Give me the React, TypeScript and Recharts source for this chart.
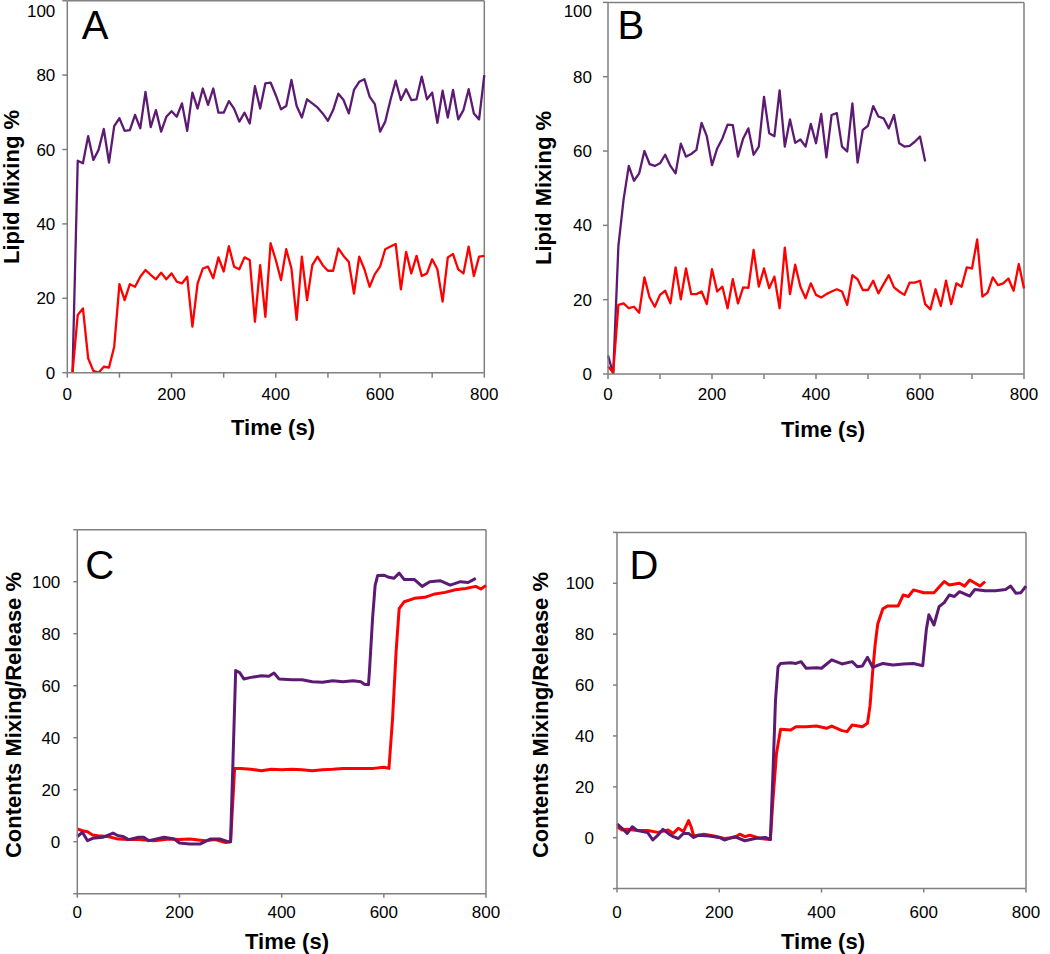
import { LineChart, Line, XAxis, YAxis, ReferenceLine } from "recharts";

const FONT = "'Liberation Sans', Arial, sans-serif";
const PURPLE = "#5d1a73";
const RED = "#ff0000";
const AXIS = "#808080";

// Panel A: lipid mixing, one reading every 10 s
const A_TIME = [
  10, 20, 30, 40, 50, 60, 70, 80, 90, 100, 110, 120, 130, 140, 150, 160, 170, 180, 190, 200,
  210, 220, 230, 240, 250, 260, 270, 280, 290, 300, 310, 320, 330, 340, 350, 360, 370, 380, 390, 400,
  410, 420, 430, 440, 450, 460, 470, 480, 490, 500, 510, 520, 530, 540, 550, 560, 570, 580, 590, 600,
  610, 620, 630, 640, 650, 660, 670, 680, 690, 700, 710, 720, 730, 740, 750, 760, 770, 780, 790, 800,
];
const A_PURPLE = [
  0, 57, 56.3, 63.6, 57.2, 59.9, 65.5, 56.5, 66.3, 68.4,
  65, 65.2, 69.3, 65.7, 75.5, 66, 70.6, 64.8, 68.8, 70.3,
  68.8, 72.4, 65, 75.3, 71, 76.4, 72, 76.4, 69.9, 69.9,
  73, 71, 67.5, 69.9, 67, 77, 71, 77.8, 78, 74.6,
  70.8, 71.7, 78.7, 71.7, 68.6, 73.5, 72.4, 71.3, 69.7, 67.7,
  70.6, 75, 73.3, 69.7, 76, 78.2, 78.9, 74.2, 72.2, 64.8,
  67.5, 73.3, 78.5, 73.3, 76.2, 73.3, 73.5, 79.6, 73.5, 75.3,
  67.2, 75.8, 68.6, 76, 68.1, 70.6, 76.2, 69.7, 68.1, 80,
];
const A_RED = [
  0, 15.5, 17.3, 3.9, 0.5, 0, 1.6, 1.4, 7, 23.8,
  19.5, 23.8, 23.1, 25.8, 27.6, 26.3, 25.1, 26.9, 25.1, 26.7,
  24.5, 24, 25.8, 12.4, 24, 28, 28.5, 25.4, 31, 27.2,
  34, 28.5, 27.8, 31, 30.3, 13.7, 28.9, 15, 34.8, 30.3,
  24.9, 33.2, 28, 14.2, 31.2, 19.5, 28.9, 31.2, 28.9, 27.4,
  27.4, 33.4, 31.4, 29.8, 21.3, 31.2, 27.8, 23.1, 26.5, 28.5,
  33.2, 33.9, 34.6, 22.4, 32.5, 26.7, 31.4, 26, 26.7, 30.5,
  27.8, 19.1, 31, 31.9, 27.8, 26.7, 33.9, 26, 31.2, 31.4,
];

// Panel B: lipid mixing, one reading every 10 s (purple stops at 610 s)
const B_TIME = [
  0, 10, 20, 30, 40, 50, 60, 70, 80, 90, 100, 110, 120, 130, 140, 150, 160, 170, 180, 190,
  200, 210, 220, 230, 240, 250, 260, 270, 280, 290, 300, 310, 320, 330, 340, 350, 360, 370, 380, 390,
  400, 410, 420, 430, 440, 450, 460, 470, 480, 490, 500, 510, 520, 530, 540, 550, 560, 570, 580, 590,
  600, 610, 620, 630, 640, 650, 660, 670, 680, 690, 700, 710, 720, 730, 740, 750, 760, 770, 780, 790,
  800,
];
const B_PURPLE = [
  5, 0, 34.5, 47, 56, 52, 54, 60, 56.5, 56,
  56.7, 59, 56, 54, 62, 58.5, 59.2, 60.3, 67.6, 64,
  56.2, 60.7, 63.4, 67.1, 67, 58.5, 63.4, 66.1, 59, 61.2,
  74.6, 64.8, 64, 76.3, 61.2, 68.5, 62.2, 63.1, 61.2, 67.3,
  62.1, 70, 58.3, 69.7, 70.2, 61.2, 59.9, 72.8, 56.9, 65.7,
  66.8, 72.1, 69.3, 68.8, 66.1, 69.7, 62.1, 61.2, 61.4, 62.5,
  63.9, 57.2,
];
const B_RED = [
  2, 0.4, 18.6, 19, 17.7, 18.1, 16.5, 26, 20.6, 18.1,
  21.3, 22.4, 19, 28.7, 20.1, 28.4, 21.5, 21.5, 22.2, 18.8,
  28.2, 22.2, 23.5, 17.7, 25.5, 19, 23.3, 23.2, 33.4, 23.5,
  28.4, 23.1, 26.2, 17.7, 34, 21.5, 29.4, 23.5, 20.4, 24.4,
  21.3, 20.6, 21.5, 22.2, 22.8, 22.2, 18.6, 26.6, 25.5, 22.6,
  22.6, 25.1, 21.7, 24.2, 26.6, 23.3, 22.2, 21.3, 24.6, 24.6,
  25.1, 18.8, 17.4, 22.8, 18.3, 25.1, 18.8, 24.4, 23.5, 28.7,
  28.4, 36.2, 20.8, 21.9, 26, 23.9, 24.4, 25.7, 22.4, 29.6,
  23,
];

// Panel C: contents mixing / release
const C_PURPLE_T = [
  0, 10, 20, 30, 50, 70, 80, 90, 100, 120, 130, 140, 170, 190, 200, 220, 240, 260, 280, 295,
  300, 310, 318, 326, 340, 360, 375, 385, 395, 420, 440, 460, 480, 500, 520, 540, 555, 562, 570, 572,
  578, 583, 588, 600, 610, 620, 630, 640, 660, 675, 690, 710, 730, 750, 765, 780,
];
const C_PURPLE_V = [
  2, 3.6, 0.4, 1.3, 1.7, 3.3, 2.3, 2, 0.8, 1.7, 1.7, 0.4, 1.7, 1, -0.5, -0.9, -0.9, 1, 1, 0,
  0, 65.8, 65, 62.6, 63.2, 63.8, 63.6, 64.9, 62.6, 62.3, 62.3, 61.5, 61.3, 61.9, 61.5, 61.9, 61.5, 60.6, 60.4, 66,
  86, 98.6, 102.4, 102.5, 101.7, 101.3, 103.3, 100.8, 100.8, 98.2, 100, 100.4, 98.7, 100, 99.7, 101.3,
];
const C_RED_T = [
  0, 10, 20, 30, 40, 60, 80, 100, 120, 150, 180, 200, 220, 250, 270, 290, 300, 308, 320, 340,
  360, 380, 400, 420, 440, 460, 480, 500, 520, 540, 560, 580, 600, 610, 617, 624, 630, 640, 660, 680,
  700, 720, 740, 760, 780, 790, 800,
];
const C_RED_V = [
  4.9, 4.2, 3.8, 2.6, 2.3, 2, 1, 0.8, 0.8, 0.4, 1, 0.8, 1, 0.4, 0.8, -0.3, 0, 28.2, 28.2, 27.9,
  27.3, 27.9, 27.7, 27.9, 27.7, 27.3, 27.7, 27.9, 28.2, 28.2, 28.2, 28.2, 28.6, 28.2, 47, 73, 89.6, 92.3, 93.6, 94,
  95.3, 95.9, 96.9, 97.4, 98.2, 97.2, 98.5,
];

// Panel D: contents mixing / release
const D_PURPLE_T = [
  0, 10, 20, 30, 40, 50, 60, 70, 80, 90, 100, 110, 120, 130, 140, 150, 160, 180, 200, 210,
  230, 250, 270, 290, 300, 305, 310, 315, 320, 340, 350, 360, 370, 390, 400, 420, 440, 460, 470, 480,
  490, 500, 520, 540, 560, 580, 598, 605, 610, 620, 630, 640, 650, 660, 670, 690, 700, 720, 740, 760,
  770, 780, 790, 800,
];
const D_PURPLE_V = [
  5.4, 3.7, 1.7, 4.3, 2.8, 2.4, 2, -0.9, 1, 3.3, 1.7, 0.4, -0.3, 1.7, 1.7, 0.1, 1, 0.7, 0.1, -0.9,
  0.4, -1.2, -0.3, 0.1, -0.7, 25, 54, 67.2, 68.5, 68.8, 68.5, 69.2, 66.6, 66.8, 66.6, 69.9, 68.3, 69.2, 67.2, 67.5,
  70.9, 67, 68.5, 67.9, 68.3, 68.5, 67.6, 81.7, 87.6, 83.6, 90.8, 92.4, 95.4, 94.8, 96.7, 95, 97.6, 97.1, 97.1, 97.6,
  98.9, 96.1, 96.3, 98.9,
];
const D_RED_T = [
  0, 10, 20, 40, 60, 80, 100, 110, 120, 130, 140, 145, 150, 170, 190, 210, 230, 240, 250, 260,
  280, 300, 305, 312, 320, 340, 350, 370, 390, 410, 420, 440, 450, 460, 480, 490, 495, 500, 505, 510,
  520, 530, 550, 560, 570, 580, 600, 620, 640, 650, 670, 680, 690, 710, 720,
];
const D_RED_V = [
  4.3, 3, 3.3, 2.8, 2.8, 2.1, 3, 1.7, 3.7, 2.4, 6.7, 4.3, 0.7, 1.4, 0.7, -0.3, 0.1, 1.4, 0.4, 1,
  -0.3, -0.7, 14.8, 33.2, 42.6, 42.3, 43.6, 43.6, 43.9, 43, 43.9, 42.1, 41.7, 44.3, 43.6, 45, 52, 65, 76, 84,
  90, 91.1, 91.1, 95.4, 94.8, 97.4, 96.3, 96.3, 100.7, 99.3, 100, 98.9, 101.3, 98.9, 100.7,
];

const LIPID_TICKS = [0, 20, 40, 60, 80, 100];
const CONTENT_TICKS = [-20, 0, 20, 40, 60, 80, 100, 120];
const TIME_TICKS_100 = [0, 100, 200, 300, 400, 500, 600, 700, 800];
const TIME_TICKS_200 = [0, 200, 400, 600, 800];

type Pt = { t: number; v: number };
const zip = (t: number[], v: number[]): Pt[] => v.map((val, i) => ({ t: t[i], v: val }));

type PanelProps = {
  letter: string;
  letterX: number;
  letterY: number;
  left: number;
  top: number;
  width: number;
  height: number;
  plot: { x0: number; x1: number; y0: number; y1: number };
  yDomain: [number, number];
  yTicks: number[];
  yShown: (v: number) => boolean;
  xTicks: number[];
  xShown: (v: number) => boolean;
  tickSize: number;
  yTickMargin: number;
  xTickMargin: number;
  yTitle: string;
  yTitleX: number;
  yTitleY: number;
  xTitleX: number;
  xTitleY: number;
  series: { data: Pt[]; color: string; name: string }[];
  strokeWidth: number;
};

function Panel(p: PanelProps) {
  const xAxisHeight = 40;
  const margin = {
    top: p.plot.y0,
    left: 0,
    right: p.width - p.plot.x1,
    bottom: p.height - p.plot.y1 - xAxisHeight,
  };
  const tickStyle = { fill: "#000", fontSize: 17, fontFamily: FONT };

  // the "100" label at the very top sits a little lower so it stays on the page
  const renderYTick = (props: any) => {
    const value = props.payload?.value as number;
    if (!p.yShown(value)) return <g />;
    const y = Math.max(props.y, 10.5);
    return (
      <text
        x={props.x}
        y={y}
        dy="0.355em"
        textAnchor="end"
        fontSize={17}
        fontFamily={FONT}
        fill="#000"
      >
        {value}
      </text>
    );
  };

  return (
    <div style={{ position: "absolute", left: p.left, top: p.top, width: p.width, height: p.height }}>
      <LineChart width={p.width} height={p.height} margin={margin} style={{ fontFamily: FONT }}>
        <XAxis
          type="number"
          dataKey="t"
          domain={[0, 800]}
          ticks={p.xTicks}
          interval={0}
          height={xAxisHeight}
          tickSize={p.tickSize}
          tickMargin={p.xTickMargin}
          tickFormatter={(v: number) => (p.xShown(v) ? String(v) : "")}
          tick={tickStyle}
          axisLine={{ stroke: AXIS, strokeWidth: 1.5 }}
          tickLine={{ stroke: AXIS, strokeWidth: 1.5 }}
          label={{
            content: () => (
              <text
                x={p.xTitleX}
                y={p.xTitleY}
                textAnchor="middle"
                dominantBaseline="central"
                fontSize={22}
                fontWeight="bold"
                fontFamily={FONT}
                fill="#000"
              >
                Time (s)
              </text>
            ),
          }}
        />
        <YAxis
          type="number"
          domain={p.yDomain}
          ticks={p.yTicks}
          interval={0}
          width={p.plot.x0}
          tickSize={p.tickSize}
          tickMargin={p.yTickMargin}
          tick={renderYTick}
          axisLine={{ stroke: AXIS, strokeWidth: 1.5 }}
          tickLine={{ stroke: AXIS, strokeWidth: 1.5 }}
          allowDataOverflow
          label={{
            content: () => (
              <text
                x={p.yTitleX}
                y={p.yTitleY}
                transform={`rotate(-90 ${p.yTitleX} ${p.yTitleY})`}
                textAnchor="middle"
                dominantBaseline="central"
                fontSize={22}
                fontWeight="bold"
                fontFamily={FONT}
                fill="#000"
              >
                {p.yTitle}
              </text>
            ),
          }}
        />
        <ReferenceLine y={p.yDomain[1]} stroke={AXIS} strokeWidth={1.5} />
        <ReferenceLine x={800} stroke={AXIS} strokeWidth={1.5} />
        {p.series.map((s) => (
          <Line
            key={s.name}
            name={s.name}
            data={s.data}
            dataKey="v"
            type="linear"
            stroke={s.color}
            strokeWidth={p.strokeWidth}
            strokeLinejoin="round"
            dot={false}
            activeDot={false}
            isAnimationActive={false}
          />
        ))}
      </LineChart>
      <svg
        width={p.width}
        height={p.height}
        style={{ position: "absolute", left: 0, top: 0, pointerEvents: "none" }}
      >
        <text x={p.letterX} y={p.letterY} fontSize={40} fontFamily={FONT} fill="#000">
          {p.letter}
        </text>
      </svg>
    </div>
  );
}

const everyOther200 = (v: number) => v % 200 === 0;
const inside = (v: number) => v >= 0 && v <= 100;
const always = () => true;

export default function App() {
  return (
    <div
      style={{
        position: "absolute",
        left: 0,
        top: 0,
        width: 1050,
        height: 954,
        background: "#fff",
        fontFamily: FONT,
      }}
    >
      <Panel
        letter="A"
        letterX={81.7}
        letterY={39.3}
        left={0}
        top={0}
        width={500}
        height={450}
        plot={{ x0: 67.3, x1: 484.3, y0: 0.7, y1: 372.7 }}
        yDomain={[0, 100]}
        yTicks={LIPID_TICKS}
        yShown={always}
        xTicks={TIME_TICKS_100}
        xShown={everyOther200}
        tickSize={5}
        yTickMargin={7}
        xTickMargin={10}
        yTitle="Lipid Mixing %"
        yTitleX={11.5}
        yTitleY={187}
        xTitleX={273}
        xTitleY={427}
        strokeWidth={2.3}
        series={[
          { name: "purple", color: PURPLE, data: zip(A_TIME, A_PURPLE) },
          { name: "red", color: RED, data: zip(A_TIME, A_RED) },
        ]}
      />
      <Panel
        letter="B"
        letterX={97.5}
        letterY={39.3}
        left={520}
        top={0}
        width={530}
        height={450}
        plot={{ x0: 88, x1: 504, y0: 2.4, y1: 374 }}
        yDomain={[0, 100]}
        yTicks={LIPID_TICKS}
        yShown={always}
        xTicks={TIME_TICKS_100}
        xShown={everyOther200}
        tickSize={5}
        yTickMargin={11}
        xTickMargin={9}
        yTitle="Lipid Mixing %"
        yTitleX={23}
        yTitleY={188}
        xTitleX={303}
        xTitleY={429.5}
        strokeWidth={2.3}
        series={[
          { name: "purple", color: PURPLE, data: zip(B_TIME, B_PURPLE) },
          { name: "red", color: RED, data: zip(B_TIME, B_RED) },
        ]}
      />
      <Panel
        letter="C"
        letterX={85.3}
        letterY={99}
        left={0}
        top={480}
        width={510}
        height={474}
        plot={{ x0: 77.3, x1: 486, y0: 49.7, y1: 413.7 }}
        yDomain={[-20, 120]}
        yTicks={CONTENT_TICKS}
        yShown={inside}
        xTicks={TIME_TICKS_200}
        xShown={always}
        tickSize={4}
        yTickMargin={13}
        xTickMargin={8}
        yTitle="Contents Mixing/Release %"
        yTitleX={13.5}
        yTitleY={235}
        xTitleX={287}
        xTitleY={461.7}
        strokeWidth={3}
        series={[
          { name: "red", color: RED, data: zip(C_RED_T, C_RED_V) },
          { name: "purple", color: PURPLE, data: zip(C_PURPLE_T, C_PURPLE_V) },
        ]}
      />
      <Panel
        letter="D"
        letterX={109.5}
        letterY={99.3}
        left={520}
        top={480}
        width={530}
        height={474}
        plot={{ x0: 97, x1: 506, y0: 52.4, y1: 408.6 }}
        yDomain={[-20, 120]}
        yTicks={CONTENT_TICKS}
        yShown={inside}
        xTicks={TIME_TICKS_200}
        xShown={always}
        tickSize={4}
        yTickMargin={19}
        xTickMargin={13}
        yTitle="Contents Mixing/Release %"
        yTitleX={20}
        yTitleY={235}
        xTitleX={303}
        xTitleY={461}
        strokeWidth={3}
        series={[
          { name: "red", color: RED, data: zip(D_RED_T, D_RED_V) },
          { name: "purple", color: PURPLE, data: zip(D_PURPLE_T, D_PURPLE_V) },
        ]}
      />
    </div>
  );
}
